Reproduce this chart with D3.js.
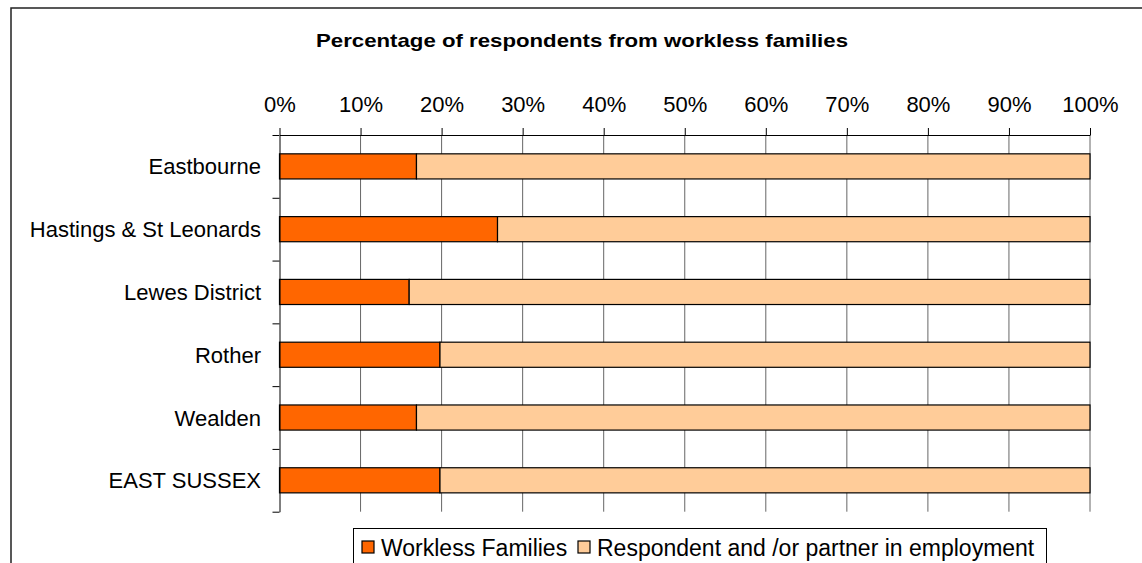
<!DOCTYPE html>
<html>
<head>
<meta charset="utf-8">
<script src="https://cdn.jsdelivr.net/npm/d3@7"></script>
<style>
  body { margin: 0; background: #fff; }
  svg { display: block; font-family: "Liberation Sans", Arial, sans-serif; }
</style>
</head>
<body>
<svg id="svg" width="1142" height="563"></svg>
<script>
var categories = ["Eastbourne", "Hastings & St Leonards", "Lewes District", "Rother", "Wealden", "EAST SUSSEX"];
var workless = [16.9, 26.9, 16.0, 19.8, 16.9, 19.8];
var employed = [83.1, 73.1, 84.0, 80.2, 83.1, 80.2];
var seriesNames = ["Workless Families", "Respondent and /or partner in employment"];
var seriesColors = ["#ff6600", "#ffcc99"];
var xTicks = [0, 10, 20, 30, 40, 50, 60, 70, 80, 90, 100];

var svg = d3.select("svg");

// outer chart border (cropped on right and bottom)
svg.append("rect")
    .attr("x", 11).attr("y", 8)
    .attr("width", 1200).attr("height", 600)
    .attr("fill", "none").attr("stroke", "#222").attr("stroke-width", 1.5);

svg.append("text")
    .attr("x", 582).attr("y", 47)
    .attr("text-anchor", "middle")
    .attr("font-weight", "bold")
    .attr("font-size", 19)
    .attr("textLength", 532)
    .attr("lengthAdjust", "spacingAndGlyphs")
    .text("Percentage of respondents from workless families");

var plotTop = 135, plotBottom = 511.7;
var x = d3.scaleLinear().domain([0, 100]).range([279.5, 1090]);
var y = d3.scaleBand().domain(categories).range([plotTop, plotBottom])
    .paddingInner(0.6).paddingOuter(0.3);
var yb = d3.scaleLinear().domain([0, categories.length]).range([plotTop, plotBottom]);

// gridlines
svg.append("g").selectAll("line")
    .data(xTicks.slice(1))
    .enter().append("line")
    .attr("x1", function(d) { return x(d); })
    .attr("x2", function(d) { return x(d); })
    .attr("y1", plotTop).attr("y2", plotBottom)
    .attr("stroke", "#666").attr("stroke-width", 1);

// stacked bars
var rows = categories.map(function(c, i) {
    return { cat: c, parts: [[0, workless[i]], [workless[i], workless[i] + employed[i]]] };
});
var bars = svg.append("g").selectAll("g")
    .data(rows)
    .enter().append("g");
bars.selectAll("rect")
    .data(function(d) { return d.parts.map(function(p, j) { return { cat: d.cat, p: p, j: j }; }); })
    .enter().append("rect")
    .attr("x", function(d) { return x(d.p[0]); })
    .attr("width", function(d) { return x(d.p[1]) - x(d.p[0]); })
    .attr("y", function(d) { return y(d.cat); })
    .attr("height", y.bandwidth())
    .attr("fill", function(d) { return seriesColors[d.j]; })
    .attr("stroke", "#000").attr("stroke-width", 1.2);

// top value axis
var xAxis = svg.append("g")
    .attr("transform", "translate(0," + plotTop + ")")
    .call(d3.axisTop(x).tickValues(xTicks)
        .tickFormat(function(d) { return d + "%"; })
        .tickSize(7).tickSizeOuter(0).tickPadding(16));
xAxis.selectAll("text").attr("font-size", 22).attr("fill", "#000")
    .attr("font-family", "Liberation Sans, Arial, sans-serif");
xAxis.selectAll("line, path").attr("stroke", "#000");

// left category axis: boundary ticks
var yAxis = svg.append("g")
    .attr("transform", "translate(" + x(0) + ",0)")
    .call(d3.axisLeft(yb).ticks(categories.length).tickFormat("")
        .tickSize(7).tickSizeOuter(0));
yAxis.selectAll("line, path").attr("stroke", "#000");

// category labels
svg.append("g").selectAll("text")
    .data(categories)
    .enter().append("text")
    .attr("x", 261)
    .attr("y", function(d) { return y(d) + y.bandwidth() / 2 + 8; })
    .attr("text-anchor", "end")
    .attr("font-size", 22)
    .text(function(d) { return d; });

// legend
var legend = svg.append("g");
legend.append("rect")
    .attr("x", 353.5).attr("y", 528.5)
    .attr("width", 693).attr("height", 60)
    .attr("fill", "#fff").attr("stroke", "#000").attr("stroke-width", 1);
var legendX = [362, 578];
var items = legend.selectAll("g.item")
    .data(seriesNames)
    .enter().append("g").attr("class", "item")
    .attr("transform", function(d, i) { return "translate(" + legendX[i] + ",0)"; });
items.append("rect")
    .attr("x", 0).attr("y", 541)
    .attr("width", 12).attr("height", 12)
    .attr("fill", function(d, i) { return seriesColors[i]; })
    .attr("stroke", "#000").attr("stroke-width", 1.2);
items.append("text")
    .attr("x", 19).attr("y", 555.5)
    .attr("font-size", 23)
    .text(function(d) { return d; });
</script>
</body>
</html>
